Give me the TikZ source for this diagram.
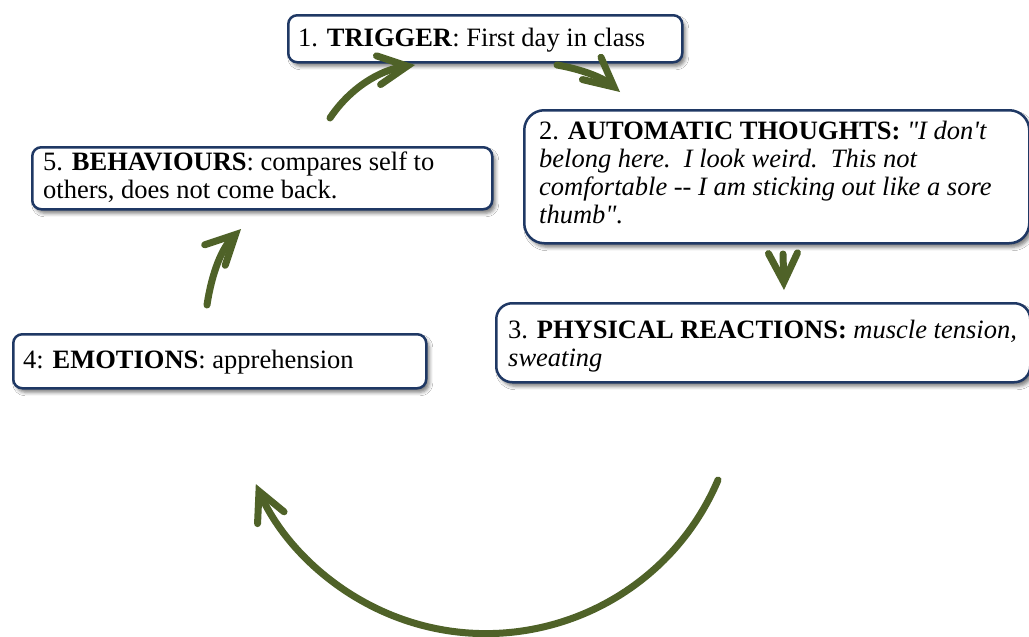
\documentclass[tikz,border=0pt]{standalone}
\usepackage{fontspec}
\setmainfont{Liberation Serif}[Ligatures=TeXOff]
\usetikzlibrary{arrows.meta,shadows.blur}
\definecolor{boxnavy}{HTML}{1F3864}
\definecolor{arrowgreen}{HTML}{4F6228}
\newcommand\cardlines[1]{\parbox[t]{530pt}{\raggedright #1}}
\begin{document}
\begin{tikzpicture}[x=1pt,y=-1pt,
  font=\fontsize{26.5}{28}\selectfont,
  cardbox/.style={draw=boxnavy, line width=2.5pt, fill=white, inner sep=0pt, anchor=north west,
    blur shadow={shadow xshift=3pt, shadow yshift=-4pt, shadow blur radius=3.5pt, shadow opacity=50}},
  cardtext/.style={anchor=base west, inner sep=0pt},
  cyclearrow/.style={draw=arrowgreen, line width=7pt, line cap=round,
    -{Straight Barb[length=29pt, width=29pt, line cap=round, line join=miter]}}
]
\useasboundingbox (0,0) rectangle (1029,637);
\fill[white] (0,0) rectangle (1029,637);

% boxes
\node[cardbox, rounded corners=9pt, minimum width=394pt, minimum height=47pt] (b1) at (287,14) {};
\node[cardbox, rounded corners=20pt, minimum width=505pt, minimum height=133pt] (b2) at (523,109) {};
\node[cardbox, rounded corners=16pt, minimum width=534pt, minimum height=79pt] (b3) at (495,302) {};
\node[cardbox, rounded corners=9pt, minimum width=413pt, minimum height=54pt] (b4) at (12,333) {};
\node[cardbox, rounded corners=9pt, minimum width=460pt, minimum height=62pt] (b5) at (31,146) {};

% texts
\node[cardtext] (t1) at (298,46) {1. \textbf{TRIGGER}: First day in class};
\node[cardtext] (t2) at (539,139) {\cardlines{2. \textbf{AUTOMATIC THOUGHTS:} \textit{"I don't}\\
\textit{belong here.~\ I look weird.~\ This not}\\
\textit{comfortable -- I am sticking out like a sore}\\
\textit{thumb".}}};
\node[cardtext] (t3) at (508,338) {\cardlines{3. \textbf{PHYSICAL REACTIONS:} \textit{muscle tension,}\\
\textit{sweating}}};
\node[cardtext] (t4) at (23,368) {4: \textbf{EMOTIONS}: apprehension};
\node[cardtext] (t5) at (43,170) {\cardlines{5. \textbf{BEHAVIOURS}: compares self to\\
others, does not come back.}};

% arrows
\coordinate (a1s) at (330,118);
\coordinate (a1e) at (415,65);
\coordinate (a2s) at (557,65);
\coordinate (a2e) at (620,92);
\coordinate (a3s) at (783,254);
\coordinate (a3e) at (784,290);
\coordinate (a4s) at (718,480);
\coordinate (a5s) at (207,305);
\coordinate (a5e) at (241,229);

\draw[cyclearrow] (a1s) .. controls (350,88) and (380,70) .. (a1e);
\draw[cyclearrow] (a2s) .. controls (580,69) and (602,77) .. (a2e);
\draw[cyclearrow] (a3s) -- (a3e);
\draw[cyclearrow] (a4s) arc[start angle=23, end angle=156, radius=252];
\draw[cyclearrow] (a5s) .. controls (212,272) and (222,248) .. (a5e);
\end{tikzpicture}
\end{document}
